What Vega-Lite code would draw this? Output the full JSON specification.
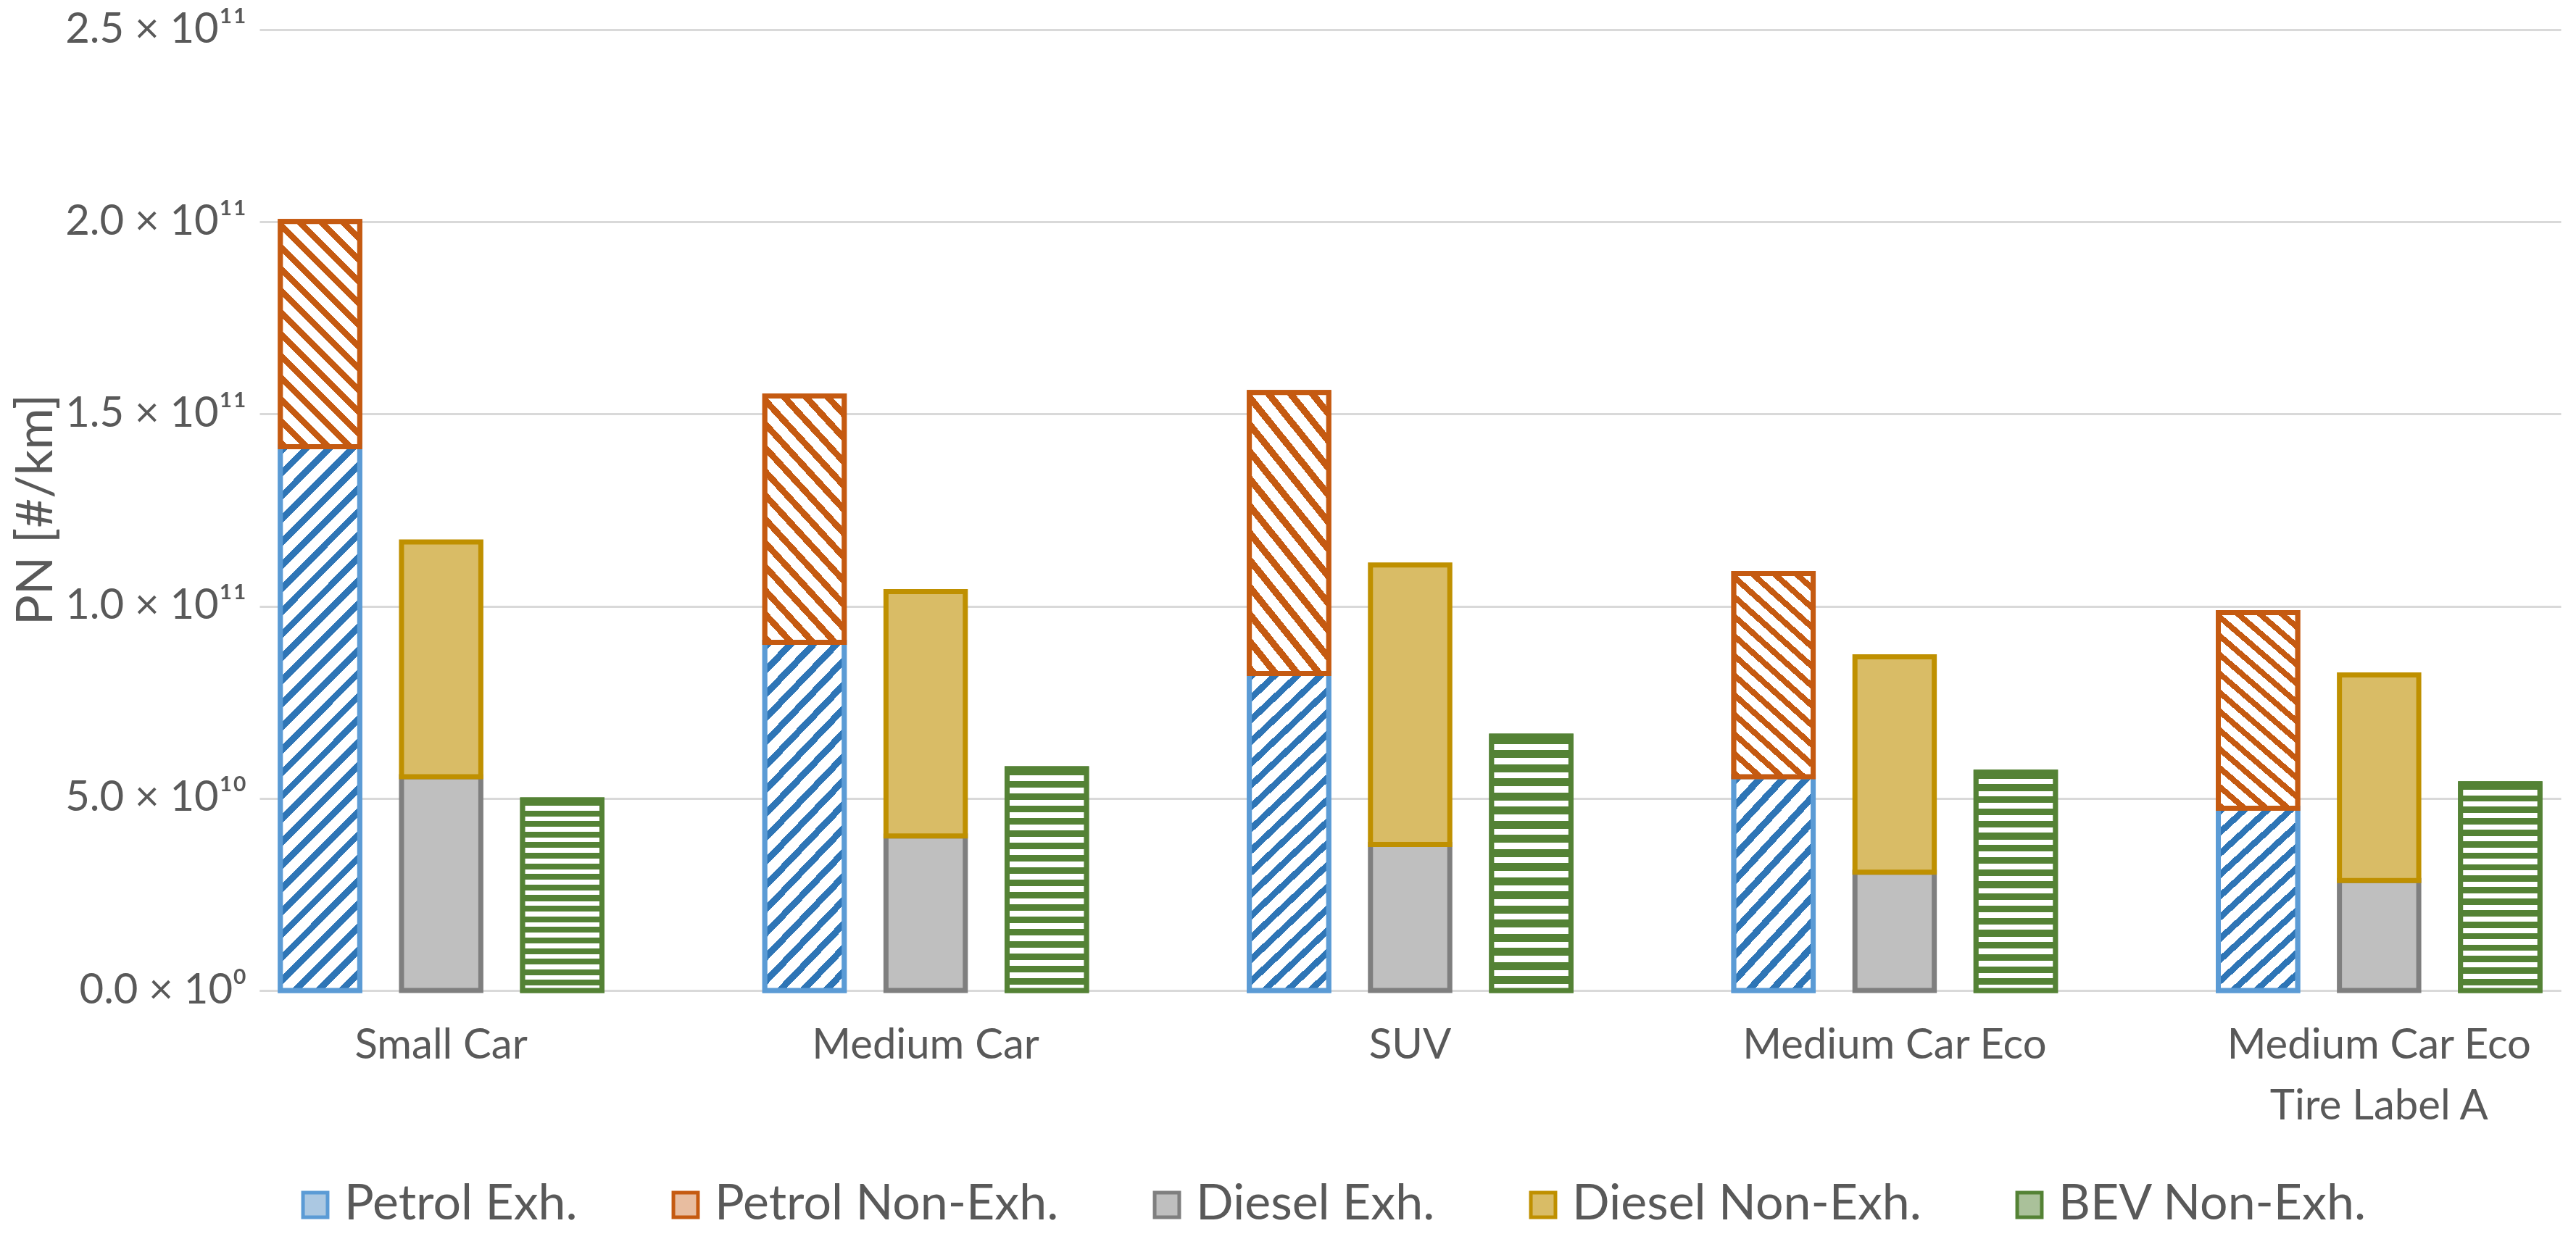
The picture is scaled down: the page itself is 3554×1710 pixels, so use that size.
{
  "$schema": "https://vega.github.io/schema/vega-lite/v6.json",
  "width": 3175,
  "height": 1326,
  "autosize": {"type": "none"},
  "padding": {"left": 358, "top": 41, "right": 21, "bottom": 343},
  "background": "white",
  "config": {
    "font": "Lato",
    "view": {"stroke": null},
    "axisY": {
      "titleFontSize": 70,
      "titleFontWeight": "normal",
      "titleColor": "#595959",
      "labelFontSize": 58,
      "labelColor": "#595959",
      "labelPadding": 18,
      "labelLimit": 0,
      "ticks": false,
      "domain": false,
      "gridColor": "#D9D9D9",
      "gridWidth": 3
    }
  },
  "data": {
    "values": [
      {"vehicle": "Small Car", "powertrain": "Petrol", "series": "Petrol Exh.", "pn": 141.5e9},
      {"vehicle": "Small Car", "powertrain": "Petrol", "series": "Petrol Non-Exh.", "pn": 58.6e9},
      {"vehicle": "Small Car", "powertrain": "Diesel", "series": "Diesel Exh.", "pn": 55.6e9},
      {"vehicle": "Small Car", "powertrain": "Diesel", "series": "Diesel Non-Exh.", "pn": 61.1e9},
      {"vehicle": "Small Car", "powertrain": "BEV", "series": "BEV Non-Exh.", "pn": 49.6e9},
      {"vehicle": "Medium Car", "powertrain": "Petrol", "series": "Petrol Exh.", "pn": 90.6e9},
      {"vehicle": "Medium Car", "powertrain": "Petrol", "series": "Petrol Non-Exh.", "pn": 64.1e9},
      {"vehicle": "Medium Car", "powertrain": "Diesel", "series": "Diesel Exh.", "pn": 40.2e9},
      {"vehicle": "Medium Car", "powertrain": "Diesel", "series": "Diesel Non-Exh.", "pn": 63.6e9},
      {"vehicle": "Medium Car", "powertrain": "BEV", "series": "BEV Non-Exh.", "pn": 57.7e9},
      {"vehicle": "SUV", "powertrain": "Petrol", "series": "Petrol Exh.", "pn": 82.5e9},
      {"vehicle": "SUV", "powertrain": "Petrol", "series": "Petrol Non-Exh.", "pn": 73.1e9},
      {"vehicle": "SUV", "powertrain": "Diesel", "series": "Diesel Exh.", "pn": 38.0e9},
      {"vehicle": "SUV", "powertrain": "Diesel", "series": "Diesel Non-Exh.", "pn": 72.7e9},
      {"vehicle": "SUV", "powertrain": "BEV", "series": "BEV Non-Exh.", "pn": 66.2e9},
      {"vehicle": "Medium Car Eco", "powertrain": "Petrol", "series": "Petrol Exh.", "pn": 55.6e9},
      {"vehicle": "Medium Car Eco", "powertrain": "Petrol", "series": "Petrol Non-Exh.", "pn": 52.9e9},
      {"vehicle": "Medium Car Eco", "powertrain": "Diesel", "series": "Diesel Exh.", "pn": 30.8e9},
      {"vehicle": "Medium Car Eco", "powertrain": "Diesel", "series": "Diesel Non-Exh.", "pn": 56.0e9},
      {"vehicle": "Medium Car Eco", "powertrain": "BEV", "series": "BEV Non-Exh.", "pn": 56.8e9},
      {"vehicle": "Medium Car Eco Tire Label A", "powertrain": "Petrol", "series": "Petrol Exh.", "pn": 47.4e9},
      {"vehicle": "Medium Car Eco Tire Label A", "powertrain": "Petrol", "series": "Petrol Non-Exh.", "pn": 50.9e9},
      {"vehicle": "Medium Car Eco Tire Label A", "powertrain": "Diesel", "series": "Diesel Exh.", "pn": 28.6e9},
      {"vehicle": "Medium Car Eco Tire Label A", "powertrain": "Diesel", "series": "Diesel Non-Exh.", "pn": 53.5e9},
      {"vehicle": "Medium Car Eco Tire Label A", "powertrain": "BEV", "series": "BEV Non-Exh.", "pn": 53.8e9}
    ]
  },
  "encoding": {
    "x": {
      "field": "vehicle",
      "type": "nominal",
      "sort": ["Small Car", "Medium Car", "SUV", "Medium Car Eco", "Medium Car Eco Tire Label A"],
      "scale": {"paddingInner": 0.25, "paddingOuter": 0},
      "axis": {
        "title": null,
        "labelAngle": 0,
        "labelFontSize": 58,
        "labelColor": "#595959",
        "labelPadding": 47,
        "labelLineHeight": 84,
        "labelLimit": 0,
        "ticks": false,
        "domainColor": "#D9D9D9",
        "domainWidth": 3,
        "labelExpr": "datum.value == 'Medium Car Eco Tire Label A' ? ['Medium Car Eco', 'Tire Label A'] : datum.label"
      }
    },
    "xOffset": {
      "field": "powertrain",
      "type": "nominal",
      "scale": {"domain": ["Petrol", "Diesel", "BEV"], "paddingInner": 0.345, "paddingOuter": 0.1725}
    }
  },
  "layer": [
    {
      "mark": {"type": "bar", "strokeWidth": 7, "strokeJoin": "miter"},
      "encoding": {
        "y": {
          "field": "pn",
          "type": "quantitative",
          "stack": "zero",
          "title": "PN [#/km]",
          "scale": {"domain": [0, 250000000000], "nice": false},
          "axis": {
            "titleX": -308,
            "titleY": 662,
            "titleAngle": -90,
            "titleAlign": "center",
            "titleBaseline": "middle",
            "values": [0, 50000000000, 100000000000, 150000000000, 200000000000, 250000000000],
            "labelExpr": "datum.value == 0 ? '0.0 × 10⁰' : datum.value < 1e11 ? format(datum.value / 1e10, '.1f') + ' × 10¹⁰' : format(datum.value / 1e11, '.1f') + ' × 10¹¹'"
          }
        },
        "fill": {
          "field": "series",
          "type": "nominal",
          "scale": {
            "domain": ["Petrol Exh.", "Petrol Non-Exh.", "Diesel Exh.", "Diesel Non-Exh.", "BEV Non-Exh."],
            "range": ["#ABC8E2", "#E8BDA0", "#BFBFBF", "#D9BC66", "#AAC19A"]
          },
          "legend": {
            "orient": "none",
            "legendX": 43,
            "legendY": 1588,
            "direction": "horizontal",
            "title": null,
            "symbolType": "square",
            "symbolSize": 1150,
            "symbolStrokeWidth": 5,
            "labelFontSize": 68,
            "labelColor": "#595959",
            "labelOffset": 6,
            "labelLimit": 0,
            "columnPadding": 115
          }
        },
        "stroke": {
          "field": "series",
          "type": "nominal",
          "scale": {
            "domain": ["Petrol Exh.", "Petrol Non-Exh.", "Diesel Exh.", "Diesel Non-Exh.", "BEV Non-Exh."],
            "range": ["#5B9BD5", "#C55A11", "#7F7F7F", "#BF9000", "#548235"]
          },
          "legend": {
            "orient": "none",
            "legendX": 43,
            "legendY": 1588,
            "direction": "horizontal",
            "title": null,
            "symbolType": "square",
            "symbolSize": 1150,
            "symbolStrokeWidth": 5,
            "labelFontSize": 68,
            "labelColor": "#595959",
            "labelOffset": 6,
            "labelLimit": 0,
            "columnPadding": 115
          }
        },
        "order": {"field": "series", "sort": "ascending"}
      }
    },
    {
      "transform": [
        {"filter": "datum.series == 'Petrol Exh.' && datum.vehicle == 'Small Car'"}
      ],
      "mark": {
        "type": "bar",
        "strokeWidth": 7,
        "strokeJoin": "miter",
        "stroke": "#5B9BD5",
        "fill": {"gradient": "linear", "x1": 0, "y1": 0, "x2": 0.164, "y2": 1.122, "stops": [
          {"offset": 0, "color": "#2E75B6"}, {"offset": 0.0148, "color": "#2E75B6"}, {"offset": 0.0148, "color": "#FFFFFF"}, {"offset": 0.037, "color": "#FFFFFF"},
          {"offset": 0.037, "color": "#2E75B6"}, {"offset": 0.0519, "color": "#2E75B6"}, {"offset": 0.0519, "color": "#FFFFFF"}, {"offset": 0.0741, "color": "#FFFFFF"},
          {"offset": 0.0741, "color": "#2E75B6"}, {"offset": 0.0889, "color": "#2E75B6"}, {"offset": 0.0889, "color": "#FFFFFF"}, {"offset": 0.1111, "color": "#FFFFFF"},
          {"offset": 0.1111, "color": "#2E75B6"}, {"offset": 0.1259, "color": "#2E75B6"}, {"offset": 0.1259, "color": "#FFFFFF"}, {"offset": 0.1481, "color": "#FFFFFF"},
          {"offset": 0.1481, "color": "#2E75B6"}, {"offset": 0.163, "color": "#2E75B6"}, {"offset": 0.163, "color": "#FFFFFF"}, {"offset": 0.1852, "color": "#FFFFFF"},
          {"offset": 0.1852, "color": "#2E75B6"}, {"offset": 0.2, "color": "#2E75B6"}, {"offset": 0.2, "color": "#FFFFFF"}, {"offset": 0.2222, "color": "#FFFFFF"},
          {"offset": 0.2222, "color": "#2E75B6"}, {"offset": 0.237, "color": "#2E75B6"}, {"offset": 0.237, "color": "#FFFFFF"}, {"offset": 0.2593, "color": "#FFFFFF"},
          {"offset": 0.2593, "color": "#2E75B6"}, {"offset": 0.2741, "color": "#2E75B6"}, {"offset": 0.2741, "color": "#FFFFFF"}, {"offset": 0.2963, "color": "#FFFFFF"},
          {"offset": 0.2963, "color": "#2E75B6"}, {"offset": 0.3111, "color": "#2E75B6"}, {"offset": 0.3111, "color": "#FFFFFF"}, {"offset": 0.3333, "color": "#FFFFFF"},
          {"offset": 0.3333, "color": "#2E75B6"}, {"offset": 0.3481, "color": "#2E75B6"}, {"offset": 0.3481, "color": "#FFFFFF"}, {"offset": 0.3704, "color": "#FFFFFF"},
          {"offset": 0.3704, "color": "#2E75B6"}, {"offset": 0.3852, "color": "#2E75B6"}, {"offset": 0.3852, "color": "#FFFFFF"}, {"offset": 0.4074, "color": "#FFFFFF"},
          {"offset": 0.4074, "color": "#2E75B6"}, {"offset": 0.4222, "color": "#2E75B6"}, {"offset": 0.4222, "color": "#FFFFFF"}, {"offset": 0.4444, "color": "#FFFFFF"},
          {"offset": 0.4444, "color": "#2E75B6"}, {"offset": 0.4593, "color": "#2E75B6"}, {"offset": 0.4593, "color": "#FFFFFF"}, {"offset": 0.4815, "color": "#FFFFFF"},
          {"offset": 0.4815, "color": "#2E75B6"}, {"offset": 0.4963, "color": "#2E75B6"}, {"offset": 0.4963, "color": "#FFFFFF"}, {"offset": 0.5185, "color": "#FFFFFF"},
          {"offset": 0.5185, "color": "#2E75B6"}, {"offset": 0.5333, "color": "#2E75B6"}, {"offset": 0.5333, "color": "#FFFFFF"}, {"offset": 0.5556, "color": "#FFFFFF"},
          {"offset": 0.5556, "color": "#2E75B6"}, {"offset": 0.5704, "color": "#2E75B6"}, {"offset": 0.5704, "color": "#FFFFFF"}, {"offset": 0.5926, "color": "#FFFFFF"},
          {"offset": 0.5926, "color": "#2E75B6"}, {"offset": 0.6074, "color": "#2E75B6"}, {"offset": 0.6074, "color": "#FFFFFF"}, {"offset": 0.6296, "color": "#FFFFFF"},
          {"offset": 0.6296, "color": "#2E75B6"}, {"offset": 0.6444, "color": "#2E75B6"}, {"offset": 0.6444, "color": "#FFFFFF"}, {"offset": 0.6667, "color": "#FFFFFF"},
          {"offset": 0.6667, "color": "#2E75B6"}, {"offset": 0.6815, "color": "#2E75B6"}, {"offset": 0.6815, "color": "#FFFFFF"}, {"offset": 0.7037, "color": "#FFFFFF"},
          {"offset": 0.7037, "color": "#2E75B6"}, {"offset": 0.7185, "color": "#2E75B6"}, {"offset": 0.7185, "color": "#FFFFFF"}, {"offset": 0.7407, "color": "#FFFFFF"},
          {"offset": 0.7407, "color": "#2E75B6"}, {"offset": 0.7556, "color": "#2E75B6"}, {"offset": 0.7556, "color": "#FFFFFF"}, {"offset": 0.7778, "color": "#FFFFFF"},
          {"offset": 0.7778, "color": "#2E75B6"}, {"offset": 0.7926, "color": "#2E75B6"}, {"offset": 0.7926, "color": "#FFFFFF"}, {"offset": 0.8148, "color": "#FFFFFF"},
          {"offset": 0.8148, "color": "#2E75B6"}, {"offset": 0.8296, "color": "#2E75B6"}, {"offset": 0.8296, "color": "#FFFFFF"}, {"offset": 0.8519, "color": "#FFFFFF"},
          {"offset": 0.8519, "color": "#2E75B6"}, {"offset": 0.8667, "color": "#2E75B6"}, {"offset": 0.8667, "color": "#FFFFFF"}, {"offset": 0.8889, "color": "#FFFFFF"},
          {"offset": 0.8889, "color": "#2E75B6"}, {"offset": 0.9037, "color": "#2E75B6"}, {"offset": 0.9037, "color": "#FFFFFF"}, {"offset": 0.9259, "color": "#FFFFFF"},
          {"offset": 0.9259, "color": "#2E75B6"}, {"offset": 0.9407, "color": "#2E75B6"}, {"offset": 0.9407, "color": "#FFFFFF"}, {"offset": 0.963, "color": "#FFFFFF"},
          {"offset": 0.963, "color": "#2E75B6"}, {"offset": 0.9778, "color": "#2E75B6"}, {"offset": 0.9778, "color": "#FFFFFF"}, {"offset": 1, "color": "#FFFFFF"}
        ]}
      },
      "encoding": {
        "y": {"field": "pn", "type": "quantitative", "title": "PN [#/km]"},
        "y2": {"datum": 0}
      }
    },
    {
      "transform": [
        {"filter": "datum.series == 'Petrol Exh.' && (datum.vehicle == 'Medium Car' || datum.vehicle == 'SUV')"}
      ],
      "mark": {
        "type": "bar",
        "strokeWidth": 7,
        "strokeJoin": "miter",
        "stroke": "#5B9BD5",
        "fill": {"gradient": "linear", "x1": 0, "y1": 0, "x2": 0.278, "y2": 1.171, "stops": [
          {"offset": 0, "color": "#2E75B6"}, {"offset": 0.0222, "color": "#2E75B6"}, {"offset": 0.0222, "color": "#FFFFFF"}, {"offset": 0.0556, "color": "#FFFFFF"},
          {"offset": 0.0556, "color": "#2E75B6"}, {"offset": 0.0778, "color": "#2E75B6"}, {"offset": 0.0778, "color": "#FFFFFF"}, {"offset": 0.1111, "color": "#FFFFFF"},
          {"offset": 0.1111, "color": "#2E75B6"}, {"offset": 0.1333, "color": "#2E75B6"}, {"offset": 0.1333, "color": "#FFFFFF"}, {"offset": 0.1667, "color": "#FFFFFF"},
          {"offset": 0.1667, "color": "#2E75B6"}, {"offset": 0.1889, "color": "#2E75B6"}, {"offset": 0.1889, "color": "#FFFFFF"}, {"offset": 0.2222, "color": "#FFFFFF"},
          {"offset": 0.2222, "color": "#2E75B6"}, {"offset": 0.2444, "color": "#2E75B6"}, {"offset": 0.2444, "color": "#FFFFFF"}, {"offset": 0.2778, "color": "#FFFFFF"},
          {"offset": 0.2778, "color": "#2E75B6"}, {"offset": 0.3, "color": "#2E75B6"}, {"offset": 0.3, "color": "#FFFFFF"}, {"offset": 0.3333, "color": "#FFFFFF"},
          {"offset": 0.3333, "color": "#2E75B6"}, {"offset": 0.3556, "color": "#2E75B6"}, {"offset": 0.3556, "color": "#FFFFFF"}, {"offset": 0.3889, "color": "#FFFFFF"},
          {"offset": 0.3889, "color": "#2E75B6"}, {"offset": 0.4111, "color": "#2E75B6"}, {"offset": 0.4111, "color": "#FFFFFF"}, {"offset": 0.4444, "color": "#FFFFFF"},
          {"offset": 0.4444, "color": "#2E75B6"}, {"offset": 0.4667, "color": "#2E75B6"}, {"offset": 0.4667, "color": "#FFFFFF"}, {"offset": 0.5, "color": "#FFFFFF"},
          {"offset": 0.5, "color": "#2E75B6"}, {"offset": 0.5222, "color": "#2E75B6"}, {"offset": 0.5222, "color": "#FFFFFF"}, {"offset": 0.5556, "color": "#FFFFFF"},
          {"offset": 0.5556, "color": "#2E75B6"}, {"offset": 0.5778, "color": "#2E75B6"}, {"offset": 0.5778, "color": "#FFFFFF"}, {"offset": 0.6111, "color": "#FFFFFF"},
          {"offset": 0.6111, "color": "#2E75B6"}, {"offset": 0.6333, "color": "#2E75B6"}, {"offset": 0.6333, "color": "#FFFFFF"}, {"offset": 0.6667, "color": "#FFFFFF"},
          {"offset": 0.6667, "color": "#2E75B6"}, {"offset": 0.6889, "color": "#2E75B6"}, {"offset": 0.6889, "color": "#FFFFFF"}, {"offset": 0.7222, "color": "#FFFFFF"},
          {"offset": 0.7222, "color": "#2E75B6"}, {"offset": 0.7444, "color": "#2E75B6"}, {"offset": 0.7444, "color": "#FFFFFF"}, {"offset": 0.7778, "color": "#FFFFFF"},
          {"offset": 0.7778, "color": "#2E75B6"}, {"offset": 0.8, "color": "#2E75B6"}, {"offset": 0.8, "color": "#FFFFFF"}, {"offset": 0.8333, "color": "#FFFFFF"},
          {"offset": 0.8333, "color": "#2E75B6"}, {"offset": 0.8556, "color": "#2E75B6"}, {"offset": 0.8556, "color": "#FFFFFF"}, {"offset": 0.8889, "color": "#FFFFFF"},
          {"offset": 0.8889, "color": "#2E75B6"}, {"offset": 0.9111, "color": "#2E75B6"}, {"offset": 0.9111, "color": "#FFFFFF"}, {"offset": 0.9444, "color": "#FFFFFF"},
          {"offset": 0.9444, "color": "#2E75B6"}, {"offset": 0.9667, "color": "#2E75B6"}, {"offset": 0.9667, "color": "#FFFFFF"}, {"offset": 1, "color": "#FFFFFF"}
        ]}
      },
      "encoding": {
        "y": {"field": "pn", "type": "quantitative", "title": "PN [#/km]"},
        "y2": {"datum": 0}
      }
    },
    {
      "transform": [
        {"filter": "datum.series == 'Petrol Exh.' && (datum.vehicle == 'Medium Car Eco' || datum.vehicle == 'Medium Car Eco Tire Label A')"}
      ],
      "mark": {
        "type": "bar",
        "strokeWidth": 7,
        "strokeJoin": "miter",
        "stroke": "#5B9BD5",
        "fill": {"gradient": "linear", "x1": 0, "y1": 0, "x2": 0.483, "y2": 1.207, "stops": [
          {"offset": 0, "color": "#2E75B6"}, {"offset": 0.0333, "color": "#2E75B6"}, {"offset": 0.0333, "color": "#FFFFFF"}, {"offset": 0.0833, "color": "#FFFFFF"},
          {"offset": 0.0833, "color": "#2E75B6"}, {"offset": 0.1167, "color": "#2E75B6"}, {"offset": 0.1167, "color": "#FFFFFF"}, {"offset": 0.1667, "color": "#FFFFFF"},
          {"offset": 0.1667, "color": "#2E75B6"}, {"offset": 0.2, "color": "#2E75B6"}, {"offset": 0.2, "color": "#FFFFFF"}, {"offset": 0.25, "color": "#FFFFFF"},
          {"offset": 0.25, "color": "#2E75B6"}, {"offset": 0.2833, "color": "#2E75B6"}, {"offset": 0.2833, "color": "#FFFFFF"}, {"offset": 0.3333, "color": "#FFFFFF"},
          {"offset": 0.3333, "color": "#2E75B6"}, {"offset": 0.3667, "color": "#2E75B6"}, {"offset": 0.3667, "color": "#FFFFFF"}, {"offset": 0.4167, "color": "#FFFFFF"},
          {"offset": 0.4167, "color": "#2E75B6"}, {"offset": 0.45, "color": "#2E75B6"}, {"offset": 0.45, "color": "#FFFFFF"}, {"offset": 0.5, "color": "#FFFFFF"},
          {"offset": 0.5, "color": "#2E75B6"}, {"offset": 0.5333, "color": "#2E75B6"}, {"offset": 0.5333, "color": "#FFFFFF"}, {"offset": 0.5833, "color": "#FFFFFF"},
          {"offset": 0.5833, "color": "#2E75B6"}, {"offset": 0.6167, "color": "#2E75B6"}, {"offset": 0.6167, "color": "#FFFFFF"}, {"offset": 0.6667, "color": "#FFFFFF"},
          {"offset": 0.6667, "color": "#2E75B6"}, {"offset": 0.7, "color": "#2E75B6"}, {"offset": 0.7, "color": "#FFFFFF"}, {"offset": 0.75, "color": "#FFFFFF"},
          {"offset": 0.75, "color": "#2E75B6"}, {"offset": 0.7833, "color": "#2E75B6"}, {"offset": 0.7833, "color": "#FFFFFF"}, {"offset": 0.8333, "color": "#FFFFFF"},
          {"offset": 0.8333, "color": "#2E75B6"}, {"offset": 0.8667, "color": "#2E75B6"}, {"offset": 0.8667, "color": "#FFFFFF"}, {"offset": 0.9167, "color": "#FFFFFF"},
          {"offset": 0.9167, "color": "#2E75B6"}, {"offset": 0.95, "color": "#2E75B6"}, {"offset": 0.95, "color": "#FFFFFF"}, {"offset": 1, "color": "#FFFFFF"}
        ]}
      },
      "encoding": {
        "y": {"field": "pn", "type": "quantitative", "title": "PN [#/km]"},
        "y2": {"datum": 0}
      }
    },
    {
      "transform": [
        {"stack": "pn", "groupby": ["vehicle", "powertrain"], "sort": [{"field": "series", "order": "ascending"}], "as": ["y_lo", "y_hi"]},
        {"filter": "datum.series == 'Petrol Non-Exh.'"}
      ],
      "mark": {
        "type": "bar",
        "strokeWidth": 7,
        "strokeJoin": "miter",
        "stroke": "#C55A11",
        "fill": {"gradient": "linear", "x1": 0, "y1": 1, "x2": 0.421, "y2": -0.203, "stops": [
          {"offset": 0, "color": "#C55A11"}, {"offset": 0.0286, "color": "#C55A11"}, {"offset": 0.0286, "color": "#FFFFFF"}, {"offset": 0.0714, "color": "#FFFFFF"},
          {"offset": 0.0714, "color": "#C55A11"}, {"offset": 0.1, "color": "#C55A11"}, {"offset": 0.1, "color": "#FFFFFF"}, {"offset": 0.1429, "color": "#FFFFFF"},
          {"offset": 0.1429, "color": "#C55A11"}, {"offset": 0.1714, "color": "#C55A11"}, {"offset": 0.1714, "color": "#FFFFFF"}, {"offset": 0.2143, "color": "#FFFFFF"},
          {"offset": 0.2143, "color": "#C55A11"}, {"offset": 0.2429, "color": "#C55A11"}, {"offset": 0.2429, "color": "#FFFFFF"}, {"offset": 0.2857, "color": "#FFFFFF"},
          {"offset": 0.2857, "color": "#C55A11"}, {"offset": 0.3143, "color": "#C55A11"}, {"offset": 0.3143, "color": "#FFFFFF"}, {"offset": 0.3571, "color": "#FFFFFF"},
          {"offset": 0.3571, "color": "#C55A11"}, {"offset": 0.3857, "color": "#C55A11"}, {"offset": 0.3857, "color": "#FFFFFF"}, {"offset": 0.4286, "color": "#FFFFFF"},
          {"offset": 0.4286, "color": "#C55A11"}, {"offset": 0.4571, "color": "#C55A11"}, {"offset": 0.4571, "color": "#FFFFFF"}, {"offset": 0.5, "color": "#FFFFFF"},
          {"offset": 0.5, "color": "#C55A11"}, {"offset": 0.5286, "color": "#C55A11"}, {"offset": 0.5286, "color": "#FFFFFF"}, {"offset": 0.5714, "color": "#FFFFFF"},
          {"offset": 0.5714, "color": "#C55A11"}, {"offset": 0.6, "color": "#C55A11"}, {"offset": 0.6, "color": "#FFFFFF"}, {"offset": 0.6429, "color": "#FFFFFF"},
          {"offset": 0.6429, "color": "#C55A11"}, {"offset": 0.6714, "color": "#C55A11"}, {"offset": 0.6714, "color": "#FFFFFF"}, {"offset": 0.7143, "color": "#FFFFFF"},
          {"offset": 0.7143, "color": "#C55A11"}, {"offset": 0.7429, "color": "#C55A11"}, {"offset": 0.7429, "color": "#FFFFFF"}, {"offset": 0.7857, "color": "#FFFFFF"},
          {"offset": 0.7857, "color": "#C55A11"}, {"offset": 0.8143, "color": "#C55A11"}, {"offset": 0.8143, "color": "#FFFFFF"}, {"offset": 0.8571, "color": "#FFFFFF"},
          {"offset": 0.8571, "color": "#C55A11"}, {"offset": 0.8857, "color": "#C55A11"}, {"offset": 0.8857, "color": "#FFFFFF"}, {"offset": 0.9286, "color": "#FFFFFF"},
          {"offset": 0.9286, "color": "#C55A11"}, {"offset": 0.9571, "color": "#C55A11"}, {"offset": 0.9571, "color": "#FFFFFF"}, {"offset": 1, "color": "#FFFFFF"}
        ]}
      },
      "encoding": {
        "y": {"field": "y_hi", "type": "quantitative", "title": "PN [#/km]"},
        "y2": {"field": "y_lo"}
      }
    },
    {
      "transform": [
        {"filter": "datum.series == 'BEV Non-Exh.'"}
      ],
      "mark": {
        "type": "bar",
        "strokeWidth": 7,
        "strokeJoin": "miter",
        "stroke": "#548235",
        "fill": {"gradient": "linear", "x1": 0, "y1": 0, "x2": 0, "y2": 1, "stops": [
          {"offset": 0, "color": "#548235"}, {"offset": 0.0306, "color": "#548235"}, {"offset": 0.0306, "color": "#FFFFFF"}, {"offset": 0.0556, "color": "#FFFFFF"},
          {"offset": 0.0556, "color": "#548235"}, {"offset": 0.0861, "color": "#548235"}, {"offset": 0.0861, "color": "#FFFFFF"}, {"offset": 0.1111, "color": "#FFFFFF"},
          {"offset": 0.1111, "color": "#548235"}, {"offset": 0.1417, "color": "#548235"}, {"offset": 0.1417, "color": "#FFFFFF"}, {"offset": 0.1667, "color": "#FFFFFF"},
          {"offset": 0.1667, "color": "#548235"}, {"offset": 0.1972, "color": "#548235"}, {"offset": 0.1972, "color": "#FFFFFF"}, {"offset": 0.2222, "color": "#FFFFFF"},
          {"offset": 0.2222, "color": "#548235"}, {"offset": 0.2528, "color": "#548235"}, {"offset": 0.2528, "color": "#FFFFFF"}, {"offset": 0.2778, "color": "#FFFFFF"},
          {"offset": 0.2778, "color": "#548235"}, {"offset": 0.3083, "color": "#548235"}, {"offset": 0.3083, "color": "#FFFFFF"}, {"offset": 0.3333, "color": "#FFFFFF"},
          {"offset": 0.3333, "color": "#548235"}, {"offset": 0.3639, "color": "#548235"}, {"offset": 0.3639, "color": "#FFFFFF"}, {"offset": 0.3889, "color": "#FFFFFF"},
          {"offset": 0.3889, "color": "#548235"}, {"offset": 0.4194, "color": "#548235"}, {"offset": 0.4194, "color": "#FFFFFF"}, {"offset": 0.4444, "color": "#FFFFFF"},
          {"offset": 0.4444, "color": "#548235"}, {"offset": 0.475, "color": "#548235"}, {"offset": 0.475, "color": "#FFFFFF"}, {"offset": 0.5, "color": "#FFFFFF"},
          {"offset": 0.5, "color": "#548235"}, {"offset": 0.5306, "color": "#548235"}, {"offset": 0.5306, "color": "#FFFFFF"}, {"offset": 0.5556, "color": "#FFFFFF"},
          {"offset": 0.5556, "color": "#548235"}, {"offset": 0.5861, "color": "#548235"}, {"offset": 0.5861, "color": "#FFFFFF"}, {"offset": 0.6111, "color": "#FFFFFF"},
          {"offset": 0.6111, "color": "#548235"}, {"offset": 0.6417, "color": "#548235"}, {"offset": 0.6417, "color": "#FFFFFF"}, {"offset": 0.6667, "color": "#FFFFFF"},
          {"offset": 0.6667, "color": "#548235"}, {"offset": 0.6972, "color": "#548235"}, {"offset": 0.6972, "color": "#FFFFFF"}, {"offset": 0.7222, "color": "#FFFFFF"},
          {"offset": 0.7222, "color": "#548235"}, {"offset": 0.7528, "color": "#548235"}, {"offset": 0.7528, "color": "#FFFFFF"}, {"offset": 0.7778, "color": "#FFFFFF"},
          {"offset": 0.7778, "color": "#548235"}, {"offset": 0.8083, "color": "#548235"}, {"offset": 0.8083, "color": "#FFFFFF"}, {"offset": 0.8333, "color": "#FFFFFF"},
          {"offset": 0.8333, "color": "#548235"}, {"offset": 0.8639, "color": "#548235"}, {"offset": 0.8639, "color": "#FFFFFF"}, {"offset": 0.8889, "color": "#FFFFFF"},
          {"offset": 0.8889, "color": "#548235"}, {"offset": 0.9194, "color": "#548235"}, {"offset": 0.9194, "color": "#FFFFFF"}, {"offset": 0.9444, "color": "#FFFFFF"},
          {"offset": 0.9444, "color": "#548235"}, {"offset": 0.975, "color": "#548235"}, {"offset": 0.975, "color": "#FFFFFF"}, {"offset": 1, "color": "#FFFFFF"}
        ]}
      },
      "encoding": {
        "y": {"field": "pn", "type": "quantitative", "title": "PN [#/km]"},
        "y2": {"datum": 0}
      }
    }
  ]
}
